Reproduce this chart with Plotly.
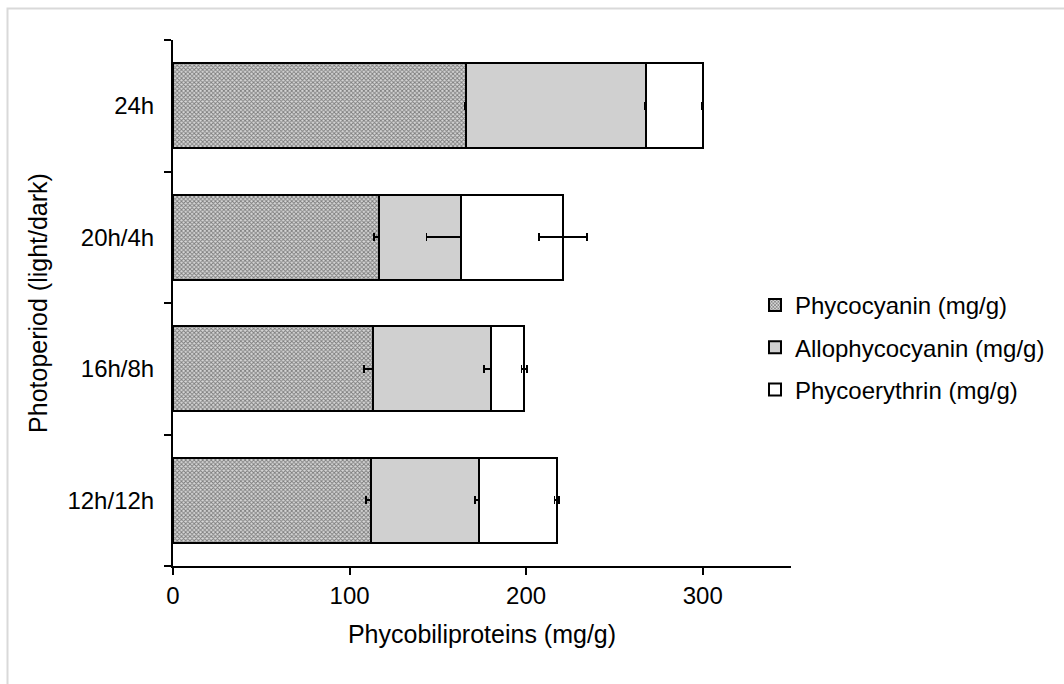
import plotly.graph_objects as go

categories = ["12h/12h", "16h/8h", "20h/4h", "24h"]
phycocyanin = [111.9, 113.0, 116.8, 166.0]
allophycocyanin = [61.4, 67.3, 46.1, 102.0]
phycoerythrin = [44.1, 18.6, 57.9, 32.0]
err_pc = [2.8, 4.7, 3.0, 0.6]
err_apc = [2.1, 4.0, 19.3, 0.6]
err_pe = [1.3, 1.5, 13.5, 0.4]
x_ticks = [0, 100, 200, 300]

FONT = "Liberation Sans, Arial, sans-serif"

def err(vals):
    return dict(type="data", array=vals, visible=True, color="black", thickness=1.8, width=4)

fig = go.Figure()
fig.add_trace(go.Bar(
    y=categories, x=phycocyanin, orientation="h", name="Phycocyanin (mg/g)",
    legendgroup="a",
    marker=dict(color="white", line=dict(color="black", width=2),
                pattern=dict(shape="x", fgcolor="#1e1e1e", bgcolor="#d8d8d8", size=3, solidity=0.5)),
    error_x=err(err_pc),
))
fig.add_trace(go.Bar(
    y=categories, x=allophycocyanin, orientation="h", name="Allophycocyanin (mg/g)",
    legendgroup="b",
    marker=dict(color="#d0d0d0", line=dict(color="black", width=2)),
    error_x=err(err_apc),
))
fig.add_trace(go.Bar(
    y=categories, x=phycoerythrin, orientation="h", name="Phycoerythrin (mg/g)",
    legendgroup="c",
    marker=dict(color="white", line=dict(color="black", width=2)),
    error_x=err(err_pe),
))

L, R, T, B = 173, 1064 - 791, 40, 684 - 566
W = 1064 - L - R
H = 684 - T - B

def px2x(p):
    return (p - L) / W

def px2y(p):
    return (684 - B - p) / H

fig.update_layout(
    barmode="stack",
    bargap=0.35,
    width=1064, height=684,
    margin=dict(l=L, r=R, t=T, b=B, autoexpand=False),
    paper_bgcolor="white", plot_bgcolor="white",
    font=dict(family=FONT, size=24, color="black"),
    showlegend=True,
    legend=dict(x=px2x(755), y=px2y(283), xanchor="left", yanchor="top",
                traceorder="grouped", tracegroupgap=8,
                font=dict(size=24, family=FONT, color="black"),
                bgcolor="rgba(0,0,0,0)"),
    xaxis=dict(range=[0, 350], tickvals=x_ticks, showgrid=False, zeroline=False,
               showline=True, linecolor="black", linewidth=2,
               ticks="outside", ticklen=7, tickwidth=2, tickcolor="black",
               tickfont=dict(size=24, family=FONT),
               title=dict(text="Phycobiliproteins (mg/g)", font=dict(size=25, family=FONT), standoff=18)),
    yaxis=dict(type="category", categoryorder="array", categoryarray=categories,
               showgrid=False, zeroline=False, showline=True, linecolor="black", linewidth=2,
               ticks="outside", tickson="boundaries", ticklen=7, tickwidth=2, tickcolor="black",
               tickfont=dict(size=24, family=FONT), ticklabelstandoff=12,
               title=dict(text="Photoperiod (light/dark)", font=dict(size=25, family=FONT), standoff=13)),
    shapes=[dict(type="rect", xref="paper", yref="paper",
                 x0=px2x(7.5), x1=px2x(1075), y0=px2y(695), y1=px2y(8.5),
                 line=dict(color="#d9d9d9", width=2), fillcolor="rgba(0,0,0,0)", layer="below")],
)

fig.write_html("out.html", config={"displayModeBar": False},
               post_script="document.body.style.margin='0';document.body.style.overflow='hidden';")
